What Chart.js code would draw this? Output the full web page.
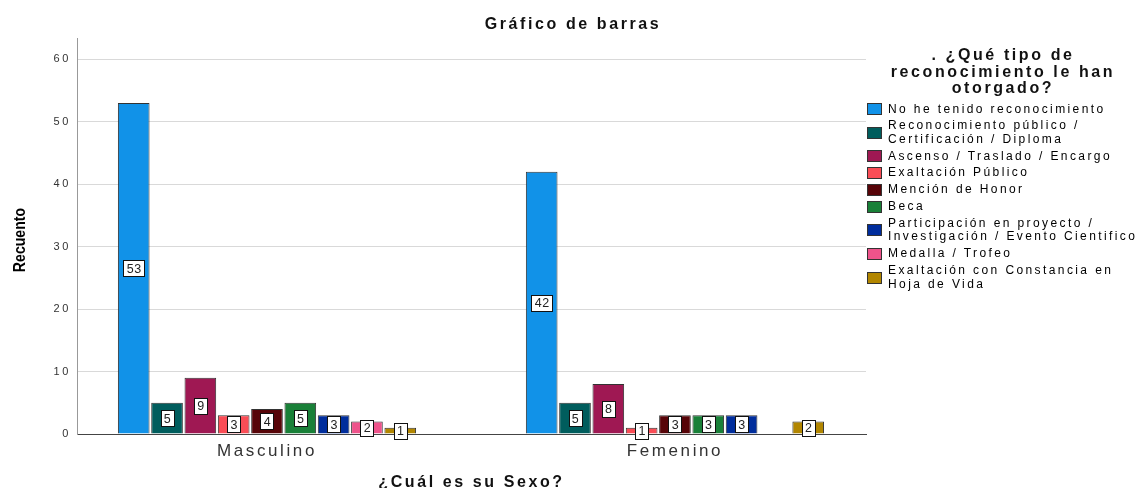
<!DOCTYPE html>
<html>
<head>
<meta charset="utf-8">
<script src="https://cdn.jsdelivr.net/npm/chart.js@4/dist/chart.umd.min.js"></script>
<style>
  html, body { margin: 0; padding: 0; background: #fff; }
  #wrap { position: relative; width: 1140px; height: 488px; }
  #legend {
    position: absolute; left: 866px; top: 47px; width: 274px;
    font-family: "Liberation Sans", Arial, sans-serif; color: #111;
  }
  #legend .ttl {
    text-align: center; font-weight: bold; font-size: 16px; line-height: 16.5px;
    letter-spacing: 2.6px; margin-bottom: 6px;
  }
  #legend .item { display: flex; align-items: center; margin-bottom: 3.6px; }
  #legend .box {
    width: 13px; height: 10px; border: 1px solid #333; margin: 0 6px 0 1px; flex: none;
  }
  #legend .lbl { font-size: 12px; line-height: 13.3px; letter-spacing: 2.4px; white-space: nowrap; color: #000; }
</style>
</head>
<body>
<div id="wrap">
  <canvas id="chart" width="1140" height="488"></canvas>
  <div id="legend"></div>
</div>
<script>
const categories = ['Masculino', 'Femenino'];
const seriesNames = [
    'No he tenido reconocimiento',
    'Reconocimiento público / Certificación / Diploma',
    'Ascenso / Traslado / Encargo',
    'Exaltación Público',
    'Mención de Honor',
    'Beca',
    'Participación en proyecto / Investigación / Evento Cientifico',
    'Medalla / Trofeo',
    'Exaltación con Constancia en Hoja de Vida'
];
// legend lines as they wrap in the original
const legendLines = [
    ['No he tenido reconocimiento'],
    ['Reconocimiento público /', 'Certificación / Diploma'],
    ['Ascenso / Traslado / Encargo'],
    ['Exaltación Público'],
    ['Mención de Honor'],
    ['Beca'],
    ['Participación en proyecto /', 'Investigación / Evento Cientifico'],
    ['Medalla / Trofeo'],
    ['Exaltación con Constancia en', 'Hoja de Vida']
];
const masculino = [53, 5, 9, 3, 4, 5, 3, 2, 1];
const femenino  = [42, 5, 8, 1, 3, 3, 3, null, 2];
const yTicks = [0, 10, 20, 30, 40, 50, 60];

const COLORS = ['#1192e8', '#005d5d', '#9f1853', '#fa4d56', '#570408',
                '#198038', '#002d9c', '#ee538b', '#b28600'];

const FONT = '"Liberation Sans", Arial, sans-serif';
const SPACING = 2.6;

// wide letter spacing like the original export, set after the canvas is sized
const spacing = {
    id: 'spacing',
    afterInit(chart) { chart.ctx.letterSpacing = SPACING + 'px'; },
    beforeUpdate(chart) { chart.ctx.letterSpacing = SPACING + 'px'; }
};

// white boxed value labels in the middle of each bar
const boxLabels = {
    id: 'boxLabels',
    afterDatasetsDraw(chart) {
        const ctx = chart.ctx;
        ctx.save();
        ctx.letterSpacing = '0.5px';
        ctx.font = '12.5px ' + FONT;
        ctx.textAlign = 'center';
        ctx.textBaseline = 'middle';
        chart.data.datasets.forEach((ds, i) => {
            const meta = chart.getDatasetMeta(i);
            meta.data.forEach((bar, j) => {
                const v = ds.data[j];
                if (v == null || v === 0) return;
                const txt = String(v);
                const w = Math.round(ctx.measureText(txt).width + 6);
                const h = 16;
                const cy = (bar.y + bar.base) / 2;
                const x0 = Math.round(bar.x - w / 2) + 0.5;
                const y0 = Math.round(cy - h / 2) + 0.5;
                ctx.fillStyle = '#fff';
                ctx.fillRect(x0, y0, w, h);
                ctx.strokeStyle = '#111';
                ctx.lineWidth = 1;
                ctx.strokeRect(x0, y0, w, h);
                ctx.fillStyle = '#222';
                ctx.fillText(txt, bar.x + 0.5, cy + 1);
            });
        });
        ctx.restore();
    }
};

// chart title centred on the whole picture and the narrow rotated y title
const texts = {
    id: 'texts',
    afterDraw(chart) {
        const ctx = chart.ctx;
        ctx.save();
        ctx.fillStyle = '#111';
        ctx.font = 'bold 16px ' + FONT;
        ctx.textAlign = 'center';
        ctx.textBaseline = 'middle';
        ctx.fillText('Gráfico de barras', 573, 25);
        ctx.letterSpacing = '0px';
        ctx.fillStyle = '#000';
        ctx.font = 'bold 17px ' + FONT;
        ctx.translate(20, 240);
        ctx.rotate(-Math.PI / 2);
        ctx.scale(0.83, 1);
        ctx.fillText('Recuento', 0, 0);
        ctx.restore();
    }
};

new Chart(document.getElementById('chart'), {
    type: 'bar',
    data: {
        labels: categories,
        datasets: seriesNames.map((name, i) => ({
            label: name,
            data: [masculino[i], femenino[i]],
            backgroundColor: COLORS[i],
            borderColor: '#333',
            borderWidth: 1,
            categoryPercentage: 0.735,
            barPercentage: 0.95
        }))
    },
    options: {
        responsive: false,
        animation: false,
        layout: { padding: { left: 0, right: 274, top: 38, bottom: 0 } },
        plugins: {
            legend: { display: false },
            tooltip: { enabled: false },
            title: { display: false }
        },
        scales: {
            x: {
                grid: { display: false, drawTicks: false },
                border: { display: true, color: '#444', width: 1 },
                ticks: { color: '#333', font: { family: FONT, size: 17 }, padding: 7 },
                title: {
                    display: true,
                    text: '¿Cuál es su Sexo?',
                    color: '#111',
                    font: { family: FONT, size: 16, weight: 'bold', lineHeight: 0.7 },
                    padding: { top: 0, bottom: 0 }
                },
                // groups sit a little closer to the plot edges than plain category offsets
                afterBuildTicks(s) { s._startValue = -0.4657; s._valueRange = 1.934; },
                afterFit(s) { s.height = 54; }
            },
            y: {
                min: 0,
                max: 63.4,
                afterBuildTicks(s) { s.ticks = yTicks.map(v => ({ value: v })); },
                grid: { color: '#d9d9d9', drawTicks: false },
                border: { display: true, color: '#999', width: 1 },
                ticks: { color: '#333', font: { family: FONT, size: 11 }, padding: 6 },
                afterFit(s) { s.width = 77; }
            }
        }
    },
    plugins: [spacing, boxLabels, texts]
});

// html legend with the wrapped labels
const lg = document.getElementById('legend');
let html = '<div class="ttl">. ¿Qué tipo de<br>reconocimiento le han<br>otorgado?</div>';
legendLines.forEach((lines, i) => {
    html += '<div class="item"><span class="box" style="background:' + COLORS[i] + '"></span>' +
            '<span class="lbl">' + lines.join('<br>') + '</span></div>';
});
lg.innerHTML = html;
</script>
</body>
</html>
